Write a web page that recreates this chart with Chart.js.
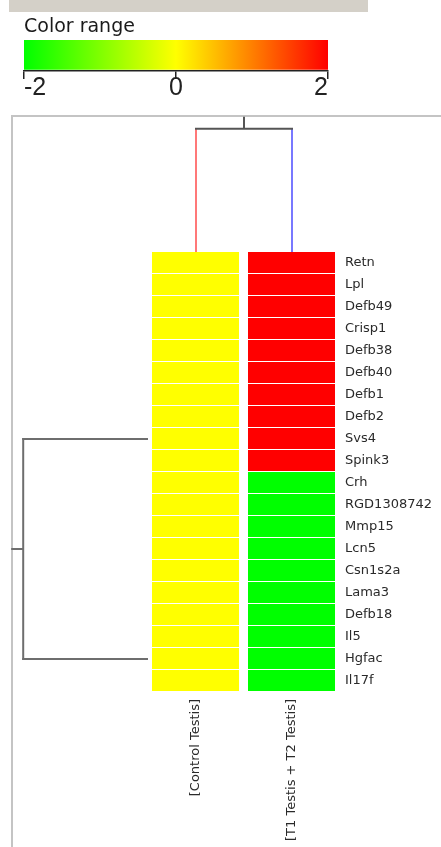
<!DOCTYPE html>
<html>
<head>
<meta charset="utf-8">
<script src="https://cdn.jsdelivr.net/npm/chart.js@4.4.1/dist/chart.umd.min.js"></script>
<style>
  html, body { margin: 0; padding: 0; background: #fff; }
  body { width: 441px; height: 847px; position: relative; overflow: hidden; }
  .toolbar { position: absolute; left: 9px; top: 0; width: 359px; height: 12px; background: #d4d0c8; }
  .panel { position: absolute; left: 11px; top: 115px; right: -4px; bottom: -4px; border-top: 2px solid #c4c4c4; border-left: 2px solid #c4c4c4; }
  canvas { position: absolute; left: 0; top: 0; }
</style>
</head>
<body>
<div class="toolbar"></div>
<div class="panel"></div>
<canvas id="heatmap" width="441" height="847"></canvas>
<canvas id="colorRange" width="441" height="110"></canvas>
<script>
// rows and columns of the heatmap
const genes = ['Retn', 'Lpl', 'Defb49', 'Crisp1', 'Defb38', 'Defb40', 'Defb1', 'Defb2', 'Svs4', 'Spink3',
    'Crh', 'RGD1308742', 'Mmp15', 'Lcn5', 'Csn1s2a', 'Lama3', 'Defb18', 'Il5', 'Hgfac', 'Il17f'];
const samples = ['[Control Testis]', '[T1 Testis + T2 Testis]'];

// expression values (log ratio), one per gene
const controlValues = [0, 0, 0, 0, 0, 0, 0, 0, 0, 0, 0, 0, 0, 0, 0, 0, 0, 0, 0, 0];
const treatedValues = [2, 2, 2, 2, 2, 2, 2, 2, 2, 2, -2, -2, -2, -2, -2, -2, -2, -2, -2, -2];

// colour range
const rangeValues = [-2, 0, 2];
const rangeColors = ['#00ff00', '#ffff00', '#ff0000'];

// dendrograms
const colTreeLeaves = [0, 1];
const colTreeHeight = 2.8;
const rowTreeLeaves = [8, 18];
const rowTreeHeight = 5.2;

function hexToRgb(hex) {
    const n = parseInt(hex.slice(1), 16);
    return [(n >> 16) & 255, (n >> 8) & 255, n & 255];
}

function valueColor(v) {
    const lo = rangeValues[0], hi = rangeValues[rangeValues.length - 1];
    const t = Math.max(lo, Math.min(hi, v));
    let i = 0;
    while (i < rangeValues.length - 2 && t > rangeValues[i + 1]) i++;
    const f = (t - rangeValues[i]) / (rangeValues[i + 1] - rangeValues[i]);
    const a = hexToRgb(rangeColors[i]);
    const b = hexToRgb(rangeColors[i + 1]);
    const c = a.map((ch, k) => Math.round(ch + (b[k] - ch) * f));
    return `rgb(${c[0]}, ${c[1]}, ${c[2]})`;
}

const dendrogramPlugin = {
    id: 'dendrogram',
    afterDatasetsDraw(chart, args, opts) {
        const { ctx, scales } = chart;
        const line = (x1, y1, x2, y2, color) => {
            ctx.beginPath();
            ctx.strokeStyle = color;
            ctx.moveTo(x1, y1);
            ctx.lineTo(x2, y2);
            ctx.stroke();
        };
        ctx.save();
        ctx.lineWidth = opts.lineWidth;
        const half = opts.lineWidth / 2;

        // tree over the columns
        const base = scales.yTree.getPixelForValue(0);
        const top = scales.yTree.getPixelForValue(colTreeHeight);
        const xs = colTreeLeaves.map(c => scales.x.getPixelForValue(c + 0.5));
        colTreeLeaves.forEach((c, i) => line(xs[i], base, xs[i], top, opts.leafColors[i]));
        line(xs[0] - half, top, xs[1] + half, top, opts.topColor);
        const midX = (xs[0] + xs[1]) / 2;
        line(midX, top, midX, top - opts.stem, opts.topColor);

        // tree beside the rows
        const left = scales.xTree.getPixelForValue(0);
        const join = scales.xTree.getPixelForValue(rowTreeHeight);
        const ys = rowTreeLeaves.map(r => scales.y.getPixelForValue(r));
        ys.forEach(y => line(left, y, join - half, y, opts.rowColor));
        line(join, ys[0] - half, join, ys[1] + half, opts.rowColor);
        const midY = (ys[0] + ys[1]) / 2;
        line(join, midY, join - opts.stem, midY, opts.rowColor);
        ctx.restore();
    }
};

new Chart(document.getElementById('heatmap'), {
    type: 'bar',
    data: {
        labels: genes,
        datasets: [controlValues, treatedValues].map((vals, c) => ({
            label: samples[c],
            data: vals.map(() => [c, c + 1]),
            backgroundColor: vals.map(valueColor),
            borderColor: 'rgba(0,0,0,0)',
            borderWidth: { left: 4, right: 5, top: 0, bottom: 1 },
            borderSkipped: false,
            inflateAmount: 0,
            grouped: false,
            barPercentage: 1,
            categoryPercentage: 1,
            xAxisID: 'x',
            yAxisID: 'y'
        }))
    },
    options: {
        indexAxis: 'y',
        responsive: false,
        animation: false,
        events: [],
        layout: { padding: { left: 148, top: 252, right: 0, bottom: 0 } },
        plugins: {
            legend: { display: false },
            tooltip: { enabled: false },
            dendrogram: {
                lineWidth: 2,
                stem: 12,
                topColor: '#555555',
                rowColor: '#6e6e6e',
                leafColors: ['#ff7878', '#7878ff']
            }
        },
        scales: {
            x: { type: 'linear', min: 0, max: 2, display: false },
            y: {
                type: 'category',
                position: 'right',
                offset: true,
                grid: { display: false, drawTicks: false },
                border: { display: false },
                ticks: {
                    autoSkip: false,
                    padding: 5,
                    color: '#2a2a2a',
                    font: { family: 'DejaVu Sans', size: 13 }
                },
                afterFit: (scale) => { scale.width = 101; }
            },
            samplesAxis: {
                type: 'category',
                axis: 'x',
                position: 'bottom',
                labels: samples,
                offset: true,
                grid: { display: false, drawTicks: false },
                border: { display: false },
                ticks: {
                    autoSkip: false,
                    minRotation: 90,
                    maxRotation: 90,
                    padding: 7,
                    color: '#2a2a2a',
                    font: { family: 'DejaVu Sans', size: 13 }
                },
                afterFit: (scale) => { scale.height = 155; }
            },
            xTree: { type: 'linear', axis: 'x', display: false, offset: false, reverse: true, min: -8, max: 0 },
            yTree: { type: 'linear', axis: 'y', display: false, offset: false, min: -10, max: 0 }
        }
    },
    plugins: [dendrogramPlugin]
});

new Chart(document.getElementById('colorRange'), {
    type: 'bar',
    data: {
        labels: ['range'],
        datasets: [{
            data: [[rangeValues[0], rangeValues[rangeValues.length - 1]]],
            backgroundColor: (context) => {
                const chart = context.chart;
                const xs = chart.scales.x;
                if (!chart.chartArea || !xs) return rangeColors[1];
                const lo = rangeValues[0], hi = rangeValues[rangeValues.length - 1];
                const g = chart.ctx.createLinearGradient(xs.getPixelForValue(lo), 0, xs.getPixelForValue(hi), 0);
                rangeValues.forEach((v, i) => g.addColorStop((v - lo) / (hi - lo), rangeColors[i]));
                return g;
            },
            borderWidth: 0,
            inflateAmount: 0,
            barPercentage: 0.93,
            categoryPercentage: 1
        }]
    },
    options: {
        indexAxis: 'y',
        responsive: false,
        animation: false,
        events: [],
        layout: { padding: { left: 24, right: 113, top: 0, bottom: 9 } },
        plugins: {
            legend: { display: false },
            tooltip: { enabled: false },
            title: {
                display: true,
                text: 'Color range',
                align: 'start',
                color: '#1a1a1a',
                font: { family: 'DejaVu Sans', size: 19, weight: 'normal' },
                padding: { top: 16, bottom: 0 }
            }
        },
        scales: {
            x: {
                type: 'linear',
                min: rangeValues[0],
                max: rangeValues[rangeValues.length - 1],
                ticks: {
                    stepSize: 2,
                    align: 'inner',
                    padding: -3,
                    color: '#222',
                    font: { family: "'Liberation Sans Narrow', 'Liberation Sans'", size: 25, lineHeight: 1 }
                },
                grid: { drawOnChartArea: false, drawTicks: true, tickLength: 8, color: '#222', lineWidth: 1.5 },
                border: { display: true, color: '#222', width: 1.5 },
                afterFit: (scale) => { scale.height = 30; }
            },
            y: { display: false }
        }
    }
});
</script>
</body>
</html>
